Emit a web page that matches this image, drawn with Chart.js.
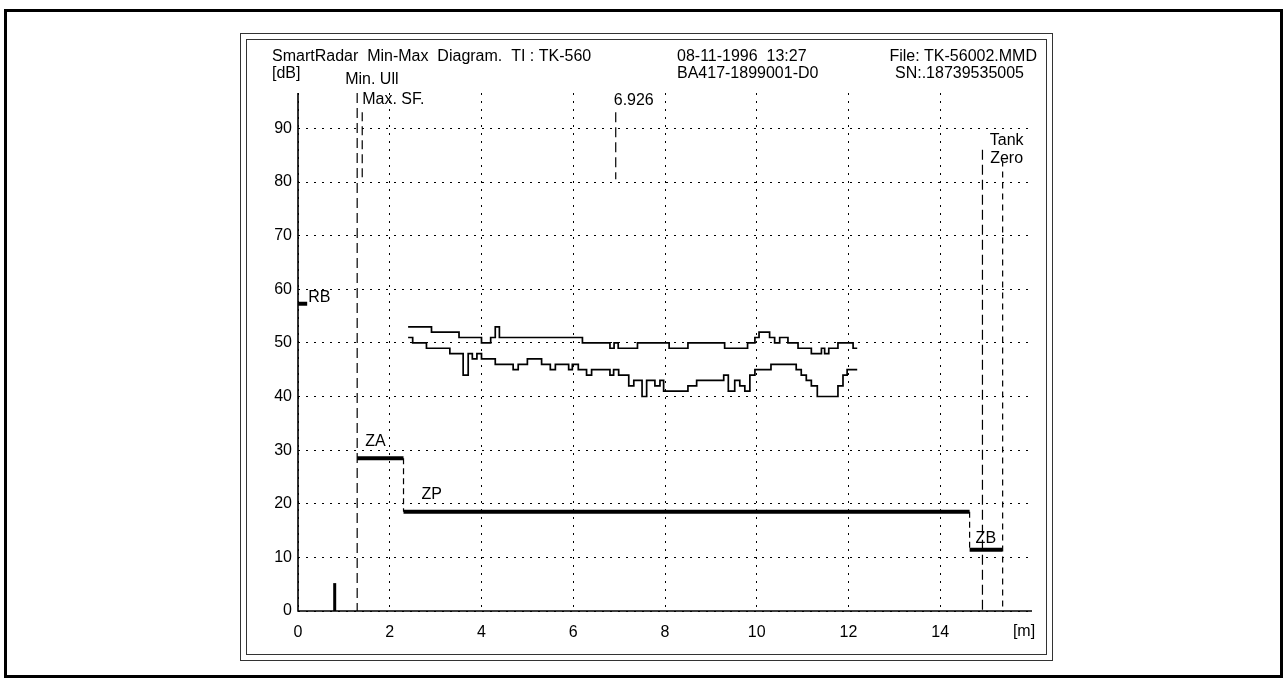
<!DOCTYPE html>
<html>
<head>
<meta charset="utf-8">
<script src="https://cdn.jsdelivr.net/npm/chart.js@4.4.0/dist/chart.umd.min.js"></script>
<style>
  html, body { margin: 0; padding: 0; background: #fff; }
  canvas { display: block; }
</style>
</head>
<body>
<canvas id="chart" width="1287" height="680"></canvas>
<script>
// Axis ticks: distance [m] and signal level [dB]
const distanceTicks = [0, 2, 4, 6, 8, 10, 12, 14];
const levelTicks = [0, 10, 20, 30, 40, 50, 60, 70, 80, 90];

// Max curve: step start positions [m] and levels [dB]
const maxCurveX = [2.40, 2.91, 3.51, 4.00, 4.20, 4.30, 4.39, 6.20, 6.80, 6.89, 6.98, 7.40, 8.09, 8.50, 9.30, 9.80, 9.96, 10.05, 10.28, 10.39, 10.50, 10.68, 10.90, 11.19, 11.41, 11.48, 11.57, 11.77, 12.10, 12.19];
const maxCurveDb = [53, 52, 51, 50, 51, 53, 51, 50, 49, 50, 49, 50, 49, 50, 49, 50, 51, 52, 51, 50, 51, 50, 49, 48, 49, 48, 49, 50, 49, 49];

// Min curve: step start positions [m] and levels [dB]
const minCurveX = [2.40, 2.50, 2.80, 3.31, 3.60, 3.71, 3.80, 3.90, 4.00, 4.30, 4.69, 4.80, 5.00, 5.31, 5.50, 5.61, 5.90, 5.98, 6.11, 6.29, 6.40, 6.80, 6.88, 6.99, 7.21, 7.32, 7.50, 7.60, 7.78, 7.89, 7.97, 8.50, 8.69, 9.28, 9.38, 9.52, 9.63, 9.74, 9.85, 9.96, 10.31, 10.86, 10.97, 11.08, 11.19, 11.32, 11.77, 11.88, 11.97, 12.19];
const minCurveDb = [51, 50, 49, 48, 44, 48, 47, 48, 47, 46, 45, 46, 47, 46, 45, 46, 45, 46, 45, 44, 45, 44, 45, 44, 42, 43, 40, 43, 42, 43, 41, 42, 43, 44, 41, 43, 42, 41, 44, 45, 46, 45, 44, 43, 42, 40, 42, 44, 45, 45];

// Threshold zones
const zoneNames = ['ZA', 'ZP', 'ZB'];
const zoneFrom = [1.29, 2.30, 14.64];
const zoneTo = [2.30, 14.64, 15.35];
const zoneDb = [28.5, 18.5, 11.4];

// Marker lines
const markerNames = ['Min. Ull', 'Max. SF.', '6.926', 'Tank', 'Zero'];
const markerX = [1.29, 1.40, 6.926, 14.92, 15.36];
const markerTopDb = [96.6, 93, 93, 86, 84];
const markerBottomDb = [0, 80.3, 80.5, 0, 0];

// Reference bar (RB) and near-field echo
const rbRange = [0, 0.2];
const rbDb = 57.3;
const echoX = 0.8;
const echoDb = 5.2;

const Y_MAX = 96.6;
const FAMILY = '"Liberation Sans Narrow", "Arial Narrow", "Liberation Sans", Arial, sans-serif';
const SIZE = 16;
const FONT = SIZE + 'px ' + FAMILY;

const pts = (xs, ys) => xs.map((x, i) => ({ x, y: ys[i] }));
const seg = (x1, y1, x2, y2) => [{ x: x1, y: y1 }, { x: x2, y: y2 }];

const datasets = [];
const line = (data, width, dash, extra) => datasets.push(Object.assign({
  data, showLine: true, borderColor: '#000', borderWidth: width,
  borderDash: dash || [], pointRadius: 0, fill: false
}, extra || {}));

line(pts(maxCurveX, maxCurveDb), 1.7, null, { stepped: true });
line(pts(minCurveX, minCurveDb), 1.7, null, { stepped: true });

zoneNames.forEach((n, i) => {
  line(seg(zoneFrom[i], zoneDb[i], zoneTo[i], zoneDb[i]), 4);
  if (i < zoneNames.length - 1) {
    line(seg(zoneTo[i], zoneDb[i], zoneTo[i], zoneDb[i + 1]), 1.2, [6, 4]);
  }
});

const markerDash = [[10, 5], [9, 5], [10, 5], [10, 5], [6, 5]];
markerX.forEach((x, i) => {
  line(seg(x, markerTopDb[i], x, markerBottomDb[i]), 1.2, markerDash[i]);
});

line(seg(rbRange[0], rbDb, rbRange[1], rbDb), 4);
line(seg(echoX, 0, echoX, echoDb), 3);

const decor = {
  id: 'decor',
  beforeDraw(chart) {
    const ctx = chart.ctx;
    ctx.save();
    ctx.fillStyle = '#fff';
    ctx.fillRect(0, 0, chart.width, chart.height);
    ctx.strokeStyle = '#000';
    ctx.lineWidth = 3;
    ctx.strokeRect(5.5, 10.5, 1276, 666);
    ctx.lineWidth = 1;
    ctx.strokeStyle = '#333';
    ctx.strokeRect(240.5, 33.5, 812, 627);
    ctx.strokeRect(246.5, 39.5, 800, 615);
    ctx.restore();
  },
  afterDatasetsDraw(chart) {
    // solid axis lines along the left and bottom of the plot
    const ctx = chart.ctx, a = chart.chartArea;
    ctx.save();
    ctx.strokeStyle = '#000';
    ctx.lineWidth = 1.6;
    ctx.beginPath();
    ctx.moveTo(a.left, a.top);
    ctx.lineTo(a.left, a.bottom);
    ctx.lineTo(a.right, a.bottom);
    ctx.stroke();
    ctx.restore();
  },
  afterDraw(chart) {
    const ctx = chart.ctx;
    const xs = chart.scales.x, ys = chart.scales.y;
    const px = v => xs.getPixelForValue(v);
    const py = v => ys.getPixelForValue(v);
    ctx.save();
    ctx.fillStyle = '#000';
    ctx.font = FONT;
    ctx.textBaseline = 'middle';
    ctx.textAlign = 'left';
    // header
    ctx.fillText('SmartRadar  Min-Max  Diagram.  TI : TK-560', 272, 57);
    ctx.fillText('08-11-1996  13:27', 677, 57);
    ctx.fillText('[dB]', 272, 74);
    ctx.fillText('BA417-1899001-D0', 677, 74);
    ctx.textAlign = 'right';
    ctx.fillText('File: TK-56002.MMD', 1037, 57);
    ctx.fillText('SN:.18739535005', 1024, 74);
    // unit of distance axis
    ctx.textAlign = 'center';
    ctx.fillText('[m]', 1024, 632);
    // marker labels
    ctx.textAlign = 'left';
    ctx.fillText(markerNames[0], px(markerX[0]) - 12, 80);
    ctx.fillText(markerNames[1], px(markerX[1]), 100);
    ctx.fillText(markerNames[2], px(markerX[2]) - 2, 101);
    ctx.textAlign = 'center';
    ctx.fillText(markerNames[3], px(markerX[4]) + 4, 141);
    ctx.fillText(markerNames[4], px(markerX[4]) + 4, 159);
    // zone labels
    ctx.textAlign = 'left';
    ctx.fillText(zoneNames[0], px(zoneFrom[0]) + 8, py(zoneDb[0]) - 17);
    ctx.fillText(zoneNames[1], px(zoneFrom[1]) + 18, py(zoneDb[1]) - 17);
    ctx.fillText(zoneNames[2], px(zoneFrom[2]) + 6, py(zoneDb[2]) - 11);
    ctx.fillText('RB', px(rbRange[1]) + 1, py(rbDb) - 6);
    ctx.restore();
  }
};

new Chart(document.getElementById('chart'), {
  type: 'scatter',
  data: { datasets },
  options: {
    responsive: false,
    animation: false,
    devicePixelRatio: 1,
    layout: { padding: { left: 0, right: 255, top: 93, bottom: 0 } },
    plugins: { legend: { display: false }, tooltip: { enabled: false } },
    scales: {
      x: {
        type: 'linear', min: 0, max: 16,
        afterBuildTicks: s => { s.ticks = distanceTicks.map(v => ({ value: v })); },
        afterFit: s => { s.height = 69; },
        grid: { color: '#000', lineWidth: 1, drawTicks: false },
        border: { display: false, dash: [2, 6] },
        ticks: { color: '#000', font: { family: FAMILY, size: SIZE }, padding: 12, maxRotation: 0 }
      },
      y: {
        type: 'linear', min: 0, max: Y_MAX,
        afterBuildTicks: s => { s.ticks = levelTicks.map(v => ({ value: v })); },
        afterFit: s => { s.width = 298; },
        grid: { color: '#000', lineWidth: 1, drawTicks: false },
        border: { display: false, dash: [2, 6] },
        ticks: { color: '#000', font: { family: FAMILY, size: SIZE }, padding: 6 }
      }
    }
  },
  plugins: [decor]
});
</script>
</body>
</html>
